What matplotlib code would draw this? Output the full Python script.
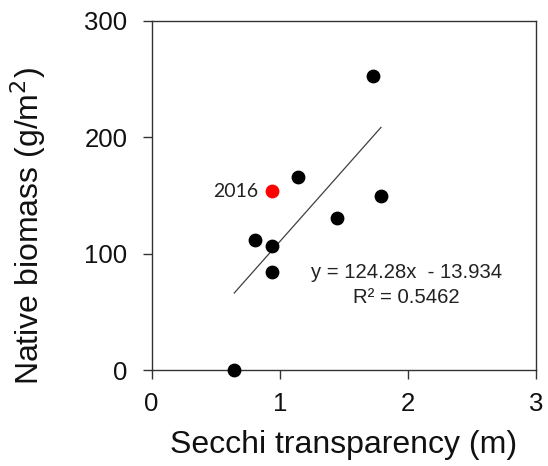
import matplotlib
matplotlib.use("Agg")
import matplotlib.pyplot as plt
import numpy as np

# Secchi transparency (m) vs native biomass (g/m2)
secchi = [0.645, 0.806, 0.939, 0.937, 1.14, 1.447, 1.725, 1.79]
biomass = [0.0, 111.5, 106.6, 84.5, 166.2, 131.0, 253.0, 149.6]
# highlighted year
hl_year = "2016"
hl_secchi = 0.939
hl_biomass = 153.6

slope = 124.28
intercept = -13.934
r2 = 0.5462

x_ticks = [0, 1, 2, 3]
y_ticks = [0, 100, 200, 300]

plt.rcParams['font.family'] = ['Liberation Sans', 'DejaVu Sans']

fig = plt.figure(figsize=(5.48, 4.66), dpi=100)
ax = fig.add_axes([0.2768, 0.206, 0.978 - 0.2768, 0.955 - 0.206])

ax.scatter(secchi, biomass, s=80, color='black', zorder=3, clip_on=False)
ax.scatter([hl_secchi], [hl_biomass], s=80, color='#ff0000', zorder=3)
ax.text(hl_secchi - 0.11, hl_biomass, hl_year, ha='right', va='center',
        fontsize=14, family=['Lato', 'DejaVu Sans'], color='#222222')

all_x = secchi + [hl_secchi]
xl = np.array([min(all_x), max(all_x)])
ax.plot(xl, slope * xl + intercept, color='#404040', lw=0.9, zorder=2)

ax.text(1.99, 83.5, f"y = {slope}x  - {abs(intercept)}", ha='center', va='center',
        fontsize=14.6, color='#222222')
ax.text(1.99, 62.5, f"R² = {r2}", ha='center', va='center',
        fontsize=14.6, color='#222222')

ax.set_xlim(0, 3)
ax.set_ylim(0, 300)
ax.set_xticks(x_ticks)
ax.set_yticks(y_ticks)
ax.tick_params(axis='both', direction='out', length=6.5, width=1, color='#333333',
               labelsize=18.5, labelcolor='#111111')
ax.tick_params(axis='y', pad=11)
ax.tick_params(axis='x', pad=9)
for sp in ax.spines.values():
    sp.set_color('#333333')
    sp.set_linewidth(1)

ax.set_xlabel("Secchi transparency (m)", fontsize=23, color='#111111', va='center')
ax.set_ylabel("Native biomass (g/m$^2$)", fontsize=23, color='#111111', va='center')
ax.xaxis.set_label_coords(0.5, -0.215)
ax.yaxis.set_label_coords(-0.322, 0.413)

fig.savefig("out.png", dpi=100)
